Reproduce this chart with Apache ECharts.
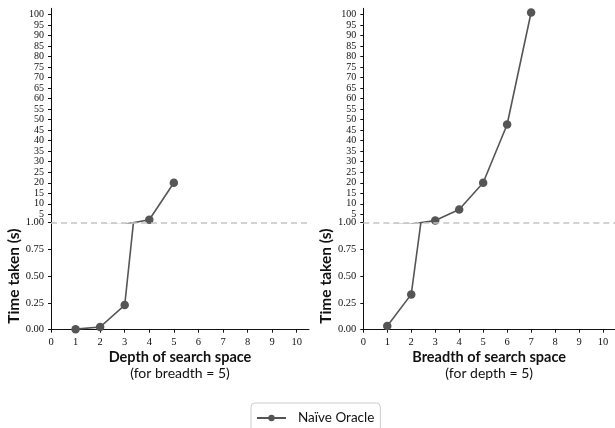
<!DOCTYPE html>
<html>
<head>
<meta charset="utf-8">
<script src="https://cdn.jsdelivr.net/npm/echarts@6/dist/echarts.min.js"></script>
<style>
  html, body { margin: 0; padding: 0; background: #fff; }
  #chart { width: 615px; height: 428px; }
</style>
</head>
<body>
<div id="chart"></div>
<script>
// data
const depthX = [1, 2, 3, 4, 5];
const depthTime = [0.005, 0.025, 0.23, 2.4, 20];
const breadthX = [1, 2, 3, 4, 5, 6, 7];
const breadthTime = [0.035, 0.33, 2.0, 7.3, 20, 47.7, 101];
const seriesName = "Naïve Oracle";
const breakAt = 1; // y axis is broken at 1.00
const upperTicks = [5, 10, 15, 20, 25, 30, 35, 40, 45, 50, 55, 60, 65, 70, 75, 80, 85, 90, 95, 100];
const panels = [
  { title: "Depth of search space", sub: "(for breadth = 5)", x: depthX, y: depthTime },
  { title: "Breadth of search space", sub: "(for depth = 5)", x: breadthX, y: breadthTime }
];

const axisColor = "#111";
const lineColor = "#555";
const serif = "Liberation Serif";
const sans = "Lato";

// 4 grids: [upper, lower] per panel
const panelLeft = [51, 363.3];
const grid = [], xAxis = [], yAxis = [], series = [];

panels.forEach(function (p, i) {
  const pts = p.x.map(function (x, k) { return [x, p.y[k]]; });
  const left = panelLeft[i];
  // upper grid (1 .. 100)
  grid.push({ left: left, top: 8.3, width: 258, height: 214.4 });
  // lower grid (0 .. 1)
  grid.push({ left: left, top: 222.7, width: 258, height: 107 });
  const gu = i * 2, gl = i * 2 + 1;

  xAxis.push({
    gridIndex: gu, type: "value", min: 0, max: 10.5, show: false
  });
  xAxis.push({
    gridIndex: gl, type: "value", min: 0, max: 10.5, interval: 1,
    axisLine: { lineStyle: { color: axisColor, width: 1 } },
    axisTick: { length: 3, lineStyle: { color: axisColor } },
    splitLine: { show: false },
    axisLabel: {
      color: axisColor, fontFamily: serif, fontSize: 10.5, margin: 7,
      showMaxLabel: false
    },
    name: "{t|" + p.title + "}\n{s|" + p.sub + "}",
    nameLocation: "middle",
    nameGap: 20,
    nameTextStyle: {
      rich: {
        t: { fontFamily: sans, fontWeight: "bold", fontSize: 14.5, color: "#111", lineHeight: 16, align: "center" },
        s: { fontFamily: sans, fontSize: 14, color: "#111", lineHeight: 15, align: "center" }
      }
    }
  });

  yAxis.push({
    gridIndex: gu, type: "value", min: breakAt, max: 103,
    axisLine: { show: true, lineStyle: { color: axisColor, width: 1 } },
    axisTick: { show: true, length: 3, customValues: upperTicks, lineStyle: { color: axisColor } },
    splitLine: { show: false },
    axisLabel: {
      customValues: upperTicks, hideOverlap: false,
      showMinLabel: true, showMaxLabel: true,
      color: axisColor, fontFamily: serif, fontSize: 10, margin: 7
    }
  });
  yAxis.push({
    gridIndex: gl, type: "value", min: 0, max: breakAt, interval: 0.25,
    axisLine: { show: true, lineStyle: { color: axisColor, width: 1 } },
    axisTick: { show: true, length: 3, lineStyle: { color: axisColor } },
    splitLine: { show: false },
    axisLabel: {
      color: axisColor, fontFamily: serif, fontSize: 10.5, margin: 7,
      formatter: function (v) { return v.toFixed(2); }
    },
    name: "Time taken (s)",
    nameLocation: "middle",
    nameGap: 29,
    nameTextStyle: {
      fontFamily: sans, fontWeight: "bold", fontSize: 15.5, color: "#111"
    }
  });

  const common = {
    name: seriesName, type: "line", data: pts, clip: true,
    symbol: "circle",
    lineStyle: { color: lineColor, width: 1.6 },
    itemStyle: { color: lineColor },
    animation: false, z: 3
  };
  series.push(Object.assign({}, common, {
    xAxisIndex: gu, yAxisIndex: gu,
    symbolSize: function (v) { return v[1] > breakAt ? 8.5 : 0; }
  }));
  series.push(Object.assign({}, common, {
    xAxisIndex: gl, yAxisIndex: gl,
    symbolSize: function (v) { return v[1] <= breakAt ? 8.5 : 0; },
    markLine: {
      silent: true, symbol: "none", label: { show: false },
      lineStyle: { color: "#c4c4c4", type: [6, 4], width: 1.6 },
      data: [{ yAxis: breakAt }]
    }
  }));
});

const chart = echarts.init(document.getElementById("chart"), null, { renderer: "canvas" });
chart.setOption({
  animation: false,
  backgroundColor: "#fff",
  grid: grid,
  xAxis: xAxis,
  yAxis: yAxis,
  series: series,
  legend: {
    data: [seriesName],
    left: 251,
    top: 403,
    itemWidth: 29,
    itemHeight: 8,
    padding: [8, 6, 8, 5],
    borderColor: "#ccc",
    borderWidth: 1,
    borderRadius: 4,
    textStyle: { fontFamily: sans, fontSize: 13.5, color: "#111", padding: [0, 0, 0, 7] }
  }
});
</script>
</body>
</html>
